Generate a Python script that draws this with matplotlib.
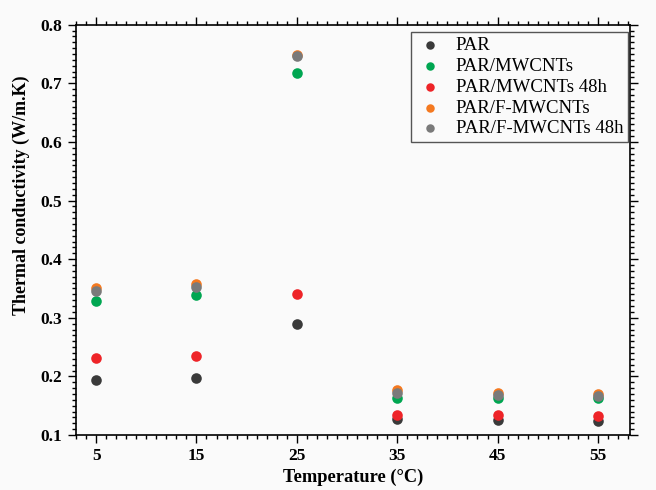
import matplotlib
matplotlib.use("Agg")
import matplotlib.pyplot as plt
from matplotlib.ticker import MultipleLocator

# temperatures (degC) and measured thermal conductivity (W/m.K)
temperature = [5, 15, 25, 35, 45, 55]

par = [0.194, 0.198, 0.289, 0.127, 0.126, 0.124]
par_mwcnt = [0.329, 0.339, 0.718, 0.164, 0.164, 0.163]
par_mwcnt_48h = [0.232, 0.235, 0.340, 0.135, 0.134, 0.132]
par_fmwcnt = [0.350, 0.357, 0.749, 0.177, 0.171, 0.170]
par_fmwcnt_48h = [0.345, 0.353, 0.746, 0.171, 0.168, 0.167]

series_names = ["PAR", "PAR/MWCNTs", "PAR/MWCNTs 48h", "PAR/F-MWCNTs", "PAR/F-MWCNTs 48h"]
series_values = [par, par_mwcnt, par_mwcnt_48h, par_fmwcnt, par_fmwcnt_48h]
series_colors = ["#3a3a3a", "#00a651", "#ee2428", "#f47920", "#7a7a7a"]

plt.rcParams["font.family"] = ["Liberation Serif", "DejaVu Serif"]

fig = plt.figure(figsize=(6.56, 4.9), dpi=100, facecolor="#fafafa")
ax = fig.add_axes([0.1159, 0.1122, 0.8445, 0.8374])
ax.set_facecolor("#fafafa")

for name, vals, col in zip(series_names, series_values, series_colors):
    ax.scatter(temperature, vals, s=58, color=col, label=name, zorder=3, linewidths=0)

ax.set_xlim(3, 58.2)
ax.set_ylim(0.1, 0.8)
ax.set_xticks(temperature)
ax.xaxis.set_minor_locator(MultipleLocator(1))
ax.yaxis.set_major_locator(MultipleLocator(0.1))
ax.yaxis.set_minor_locator(MultipleLocator(0.01))

ax.tick_params(which="both", direction="out", top=True, right=True,
               labeltop=False, labelright=False, width=1.0)
ax.tick_params(which="major", length=6, labelsize=12.5)
ax.tick_params(axis="y", which="major", pad=4)
ax.tick_params(which="minor", length=3)
for lab in ax.get_xticklabels() + ax.get_yticklabels():
    lab.set_fontweight("bold")
for sp in ax.spines.values():
    sp.set_linewidth(1.2)

ax.set_xlabel("Temperature (°C)", fontsize=13.2, fontweight="bold")
ax.set_ylabel("Thermal conductivity (W/m.K)", fontsize=13, fontweight="bold")
ax.xaxis.set_label_coords(0.5, -0.082)
ax.yaxis.set_label_coords(-0.083, 0.585)

leg = ax.legend(loc="upper right", bbox_to_anchor=(0.996, 0.982), borderaxespad=0,
                fontsize=13.5, fancybox=False, edgecolor="#555555",
                handlelength=1.6, handletextpad=0.55, labelspacing=0.2,
                markerscale=0.8, borderpad=0.25)
leg.get_frame().set_facecolor("#fafafa")
leg.get_frame().set_alpha(1)

plt.savefig("out.png", dpi=100, facecolor=fig.get_facecolor())
